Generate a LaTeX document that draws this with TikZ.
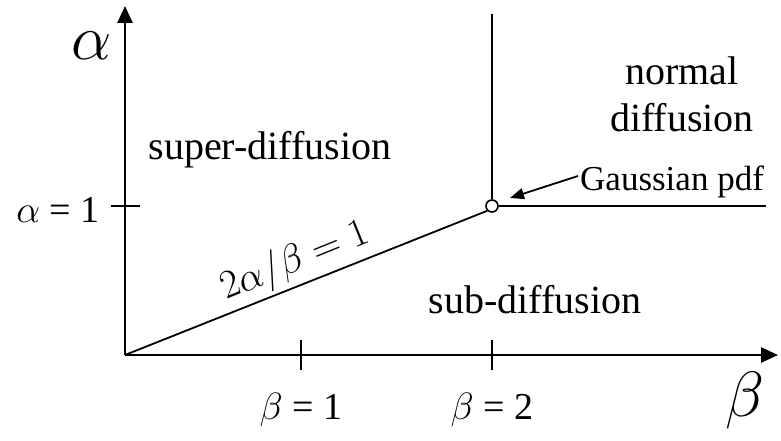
\RequirePackage{fix-cm}
\documentclass[tikz,border=0pt]{standalone}
\usepackage{fontspec}
\setmainfont{Liberation Serif}
\usetikzlibrary{arrows.meta}
\tikzset{
  axis/.style={line width=2.6pt,-{Triangle[length=17pt,width=15pt]}},
  thin line/.style={line width=1.8pt},
  lbl/.style={inner sep=0pt,font=\fontsize{40}{47}\selectfont},
  tick lbl/.style={inner sep=0pt,font=\fontsize{38}{44}\selectfont},
  greek/.style={inner sep=0pt,font=\fontsize{64}{70}\selectfont},
  small/.style={inner sep=0pt,font=\fontsize{35}{40}\selectfont},
}
\begin{document}
\begin{tikzpicture}[x=1pt,y=-1pt]
\useasboundingbox (0,0) rectangle (781,441);
% key points
\coordinate (O) at (125,355);
\coordinate (ytop) at (125,6);
\coordinate (xend) at (778,355);
\coordinate (b1lo) at (301,370);
\coordinate (b1hi) at (301,340);
\coordinate (b2lo) at (492,370);
\coordinate (b2hi) at (492,340);
\coordinate (b2top) at (492,14);
\coordinate (a1l) at (111,206);
\coordinate (a1r) at (140,206);
\coordinate (hend) at (766,206);
\coordinate (slopept) at (304,283);
\coordinate (arrowtip) at (510,198);
\coordinate (arrowstart) at (578,176);
\node[circle,draw,line width=1.6pt,minimum size=12pt,inner sep=0pt] (G) at (492,206) {};
% axes
\draw[axis] (O) -- (ytop);
\draw[axis] (O) -- (xend);
% ticks and boundaries
\draw[thin line] (b1lo) -- (b1hi);
\draw[thin line] (b2lo) -- (b2hi);
\draw[thin line] (G.north) -- (b2top);
\draw[thin line] (a1l) -- (a1r);
\draw[thin line] (G.east) -- (hend);
\draw[thin line] (O) -- (G.south west);
% labels
\node[greek] (alpha) at (92,46) {$\alpha$};
\node[greek] (beta) at (745,400) {$\beta$};
\node[tick lbl,anchor=east] (a1) at (100,210) {$\alpha$ = 1};
\node[tick lbl] (b1) at (301,410) {$\beta$ = 1};
\node[tick lbl] (b2) at (492,410) {$\beta$ = 2};
\node[lbl] (super) at (270,150) {super-diffusion};
\node[lbl] (sub) at (535,300) {sub-diffusion};
\node[lbl,align=center] (normal) at (682,94) {normal\\diffusion};
\node[lbl,rotate=22,anchor=south,yshift=3pt] (slope) at (slopept) {$2\alpha/\beta = 1$};
\node[small,anchor=west] (gauss) at (580,182) {Gaussian pdf};
\draw[thin line,-{Triangle[length=14pt,width=11pt]}] (arrowstart) -- (arrowtip);
\end{tikzpicture}
\end{document}
